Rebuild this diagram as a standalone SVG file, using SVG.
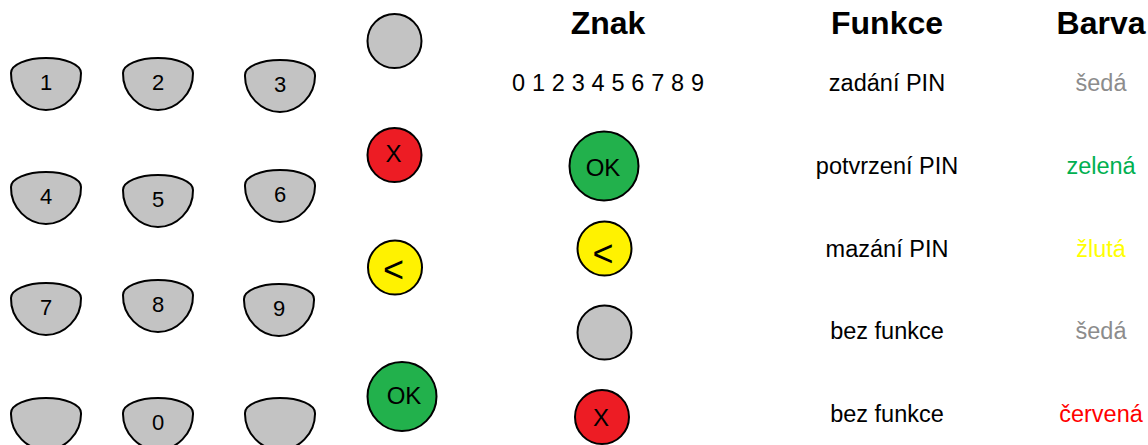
<svg xmlns="http://www.w3.org/2000/svg" width="1148" height="445" viewBox="0 0 1148 445">
<style>
.key{fill:#c3c3c3;stroke:#000;stroke-width:2}
.c{stroke:#000;stroke-width:2}
.gray{fill:#c3c3c3}.red{fill:#ed1c24}.yel{fill:#fff200}.grn{fill:#22b14c}
text{font-family:"Liberation Sans",Arial,sans-serif;text-anchor:middle;fill:#000}
.k{font-size:22px}
.b{font-size:24px}
.lt{font-size:36px}
.h{font-size:32px;font-weight:bold}
.t{font-size:23.5px}
</style>
<defs>
<path id="keyshape" d="M-35,15 A35,15 0 0 1 35,15 C35.5,36 18,52 0,52 C-18,52 -35.5,36 -35,15 Z"/>
</defs>
<rect width="1148" height="445" fill="#fff"/>
<g id="keypad">
<g id="key1"><use href="#keyshape" class="key" x="46" y="58"/><text class="k" x="46" y="90">1</text></g>
<g id="key2"><use href="#keyshape" class="key" x="158" y="58"/><text class="k" x="158" y="90">2</text></g>
<g id="key3"><use href="#keyshape" class="key" x="280" y="60"/><text class="k" x="280" y="92">3</text></g>
<g id="key4"><use href="#keyshape" class="key" x="46" y="172"/><text class="k" x="46" y="204">4</text></g>
<g id="key5"><use href="#keyshape" class="key" x="158" y="175"/><text class="k" x="158" y="207">5</text></g>
<g id="key6"><use href="#keyshape" class="key" x="280" y="170"/><text class="k" x="280" y="202">6</text></g>
<g id="key7"><use href="#keyshape" class="key" x="46" y="283"/><text class="k" x="46" y="315">7</text></g>
<g id="key8"><use href="#keyshape" class="key" x="158" y="280"/><text class="k" x="158" y="312">8</text></g>
<g id="key9"><use href="#keyshape" class="key" x="279" y="284"/><text class="k" x="279" y="316">9</text></g>
<g id="keyL"><use href="#keyshape" class="key" x="46" y="398"/></g>
<g id="key0"><use href="#keyshape" class="key" x="158" y="398"/><text class="k" x="158" y="430">0</text></g>
<g id="keyR"><use href="#keyshape" class="key" x="280" y="398"/></g>
</g>
<g id="sidebuttons">
<g id="sb-gray"><circle class="c gray" cx="394.5" cy="41" r="27"/></g>
<g id="sb-x"><circle class="c red" cx="394.5" cy="155" r="27"/><text class="b" x="393.5" y="162">X</text></g>
<g id="sb-back"><circle class="c yel" cx="395" cy="267.5" r="27"/><text class="lt" x="393.5" y="282">&lt;</text></g>
<g id="sb-ok"><circle class="c grn" cx="402" cy="396.5" r="34.5"/><text class="b" x="404" y="404">OK</text></g>
</g>
<g id="headers">
<text class="h" x="608" y="34">Znak</text>
<text class="h" x="887" y="34">Funkce</text>
<text class="h" x="1101" y="34">Barva</text>
</g>
<g id="row1">
<text class="t" x="608" y="91" textLength="192" lengthAdjust="spacing">0 1 2 3 4 5 6 7 8 9</text>
<text class="t" x="887" y="91">zadání PIN</text>
<text class="t" x="1101" y="91" style="fill:#8c8c8c">šedá</text>
</g>
<g id="row2">
<circle class="c grn" cx="604" cy="166" r="34.5"/><text class="b" x="603" y="176">OK</text>
<text class="t" x="887" y="174">potvrzení PIN</text>
<text class="t" x="1101" y="174" style="fill:#00b050">zelená</text>
</g>
<g id="row3">
<circle class="c yel" cx="604.5" cy="248.5" r="27"/><text class="lt" x="603" y="266">&lt;</text>
<text class="t" x="887" y="257">mazání PIN</text>
<text class="t" x="1101" y="257" style="fill:#ffff00">žlutá</text>
</g>
<g id="row4">
<circle class="c gray" cx="604.5" cy="332.5" r="27"/>
<text class="t" x="887" y="339">bez funkce</text>
<text class="t" x="1101" y="339" style="fill:#8c8c8c">šedá</text>
</g>
<g id="row5">
<circle class="c red" cx="602" cy="417" r="27"/><text class="b" x="601" y="426">X</text>
<text class="t" x="887" y="422">bez funkce</text>
<text class="t" x="1101" y="422" style="fill:#ff0000">červená</text>
</g>
</svg>
